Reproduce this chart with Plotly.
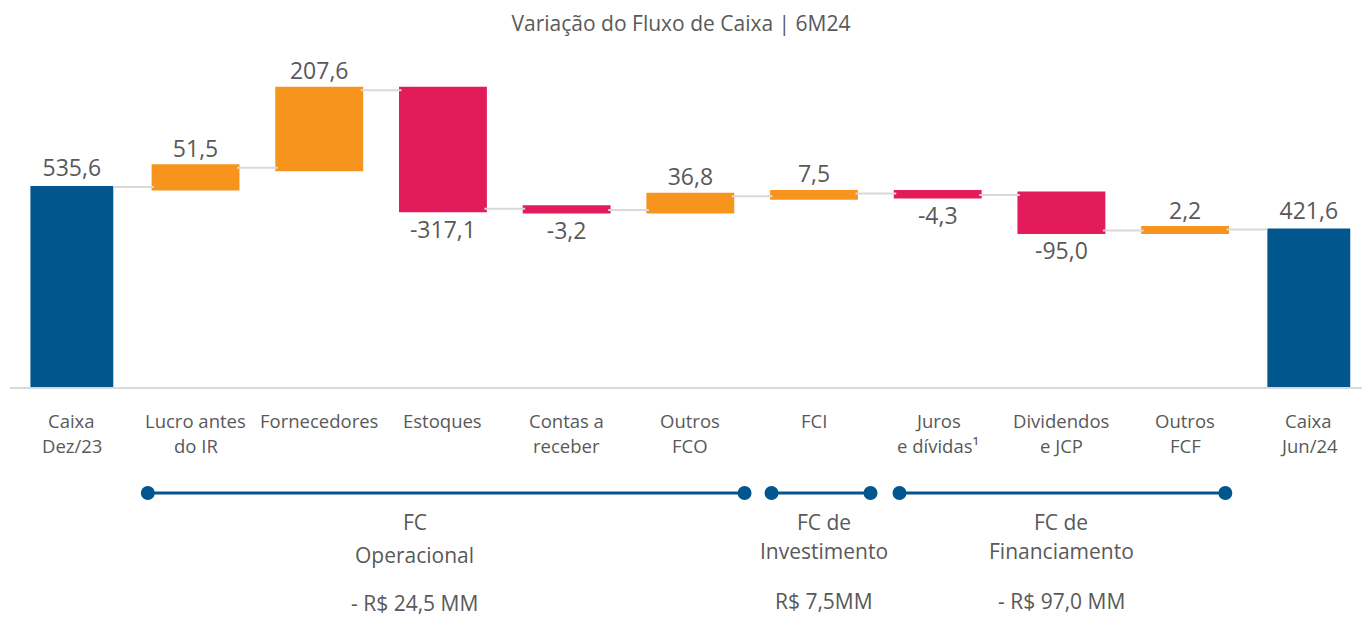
import plotly.graph_objects as go

categories = ["Caixa<br>Dez/23", "Lucro antes<br>do IR", "Fornecedores", "Estoques",
              "Contas a<br>receber", "Outros<br>FCO", "FCI", "Juros<br>e dívidas¹",
              "Dividendos<br>e JCP", "Outros<br>FCF", "Caixa<br>Jun/24"]
values = [535.6, 51.5, 207.6, -317.1, -3.2, 36.8, 7.5, -4.3, -95.0, 2.2, 421.6]
measures = ["absolute"] + ["relative"] * 9 + ["total"]
labels = [f"{v:.1f}".replace(".", ",") for v in values]

groups = ["FC<br>Operacional", "FC de<br>Investimento", "FC de<br>Financiamento"]
group_totals = ["- R$ 24,5 MM", "R$ 7,5MM", "- R$ 97,0 MM"]

BLUE = "#01568E"
ORANGE = "#F7941D"
RED = "#E31B5B"
GRAY = "#595959"
FONT = "Open Sans"

n = len(categories)

fig = go.Figure(go.Waterfall(
    x=list(range(n)),
    y=values,
    measure=measures,
    width=[0.67] * n,
    text=labels,
    textposition="outside",
    textfont=dict(family=FONT, size=23, color=GRAY),
    increasing=dict(marker=dict(color=ORANGE, line=dict(color=ORANGE, width=5))),
    decreasing=dict(marker=dict(color=RED, line=dict(color=RED, width=5))),
    totals=dict(marker=dict(color=BLUE, line=dict(color=BLUE, width=0))),
    connector=dict(line=dict(color="#D9D9D9", width=2)),
    cliponaxis=False,
    hoverinfo="skip",
))

TOP_PX = 60
BASE_PX = 387
H = 619
plot_h = BASE_PX - TOP_PX


def py(px):
    return (BASE_PX - px) / plot_h


def cx(px):
    return (px - 72) / 123.75


shapes = []
# axis baseline
shapes.append(dict(type="line", xref="paper", yref="paper", x0=0, x1=1, y0=py(388), y1=py(388),
                   line=dict(color="#D9D9D9", width=2), layer="below"))
segments = [(148, 745), (772, 871), (900, 1226)]
for a, b in segments:
    shapes.append(dict(type="line", xref="x", yref="paper", x0=cx(a), x1=cx(b),
                       y0=py(493), y1=py(493), line=dict(color=BLUE, width=3)))
    for p in (a, b):
        shapes.append(dict(type="circle", xref="x", yref="paper", xsizemode="pixel",
                           ysizemode="pixel", xanchor=cx(p), yanchor=py(493),
                           x0=-7, x1=7, y0=-7, y1=7, fillcolor=BLUE, line=dict(width=0)))

annotations = []
# category labels (two lines each)
for i, cat in enumerate(categories):
    parts = cat.split("<br>")
    for j, part in enumerate(parts):
        annotations.append(dict(text=part, xref="x", yref="paper", x=i, y=py(420 + 26 * j),
                                showarrow=False, xanchor="center", yanchor="middle",
                                font=dict(family=FONT, size=18.5, color=GRAY)))

group_x = [415, 824, 1062]
title_lines_y = [(522, 555, 603), (522, 551, 601), (522, 551, 601)]
for g, t, gx, ys in zip(groups, group_totals, group_x, title_lines_y):
    l1, l2 = g.split("<br>")
    for txt, yy in ((l1, ys[0]), (l2, ys[1]), (t, ys[2])):
        annotations.append(dict(text=txt, xref="x", yref="paper", x=cx(gx), y=py(yy),
                                showarrow=False, xanchor="center", yanchor="middle",
                                font=dict(family=FONT, size=21, color=GRAY)))

fig.update_layout(
    width=1362, height=619,
    margin=dict(l=10, r=0, t=TOP_PX, b=H - BASE_PX),
    paper_bgcolor="white", plot_bgcolor="white",
    showlegend=False,
    title=dict(text="Variação do Fluxo de Caixa | 6M24", x=0.5, xanchor="center",
               y=1 - 24 / H, yanchor="middle",
               font=dict(family=FONT, size=21, color=GRAY)),
    xaxis=dict(range=[-0.5, 10.43], showticklabels=False, showgrid=False,
               zeroline=False, showline=False, ticks=""),
    yaxis=dict(range=[0, 876], visible=False, showgrid=False, zeroline=False),
    shapes=shapes,
    annotations=annotations,
    font=dict(family=FONT),
)

fig.write_html("out.html", config={"displayModeBar": False},
               post_script="document.body.style.margin='0px';")
